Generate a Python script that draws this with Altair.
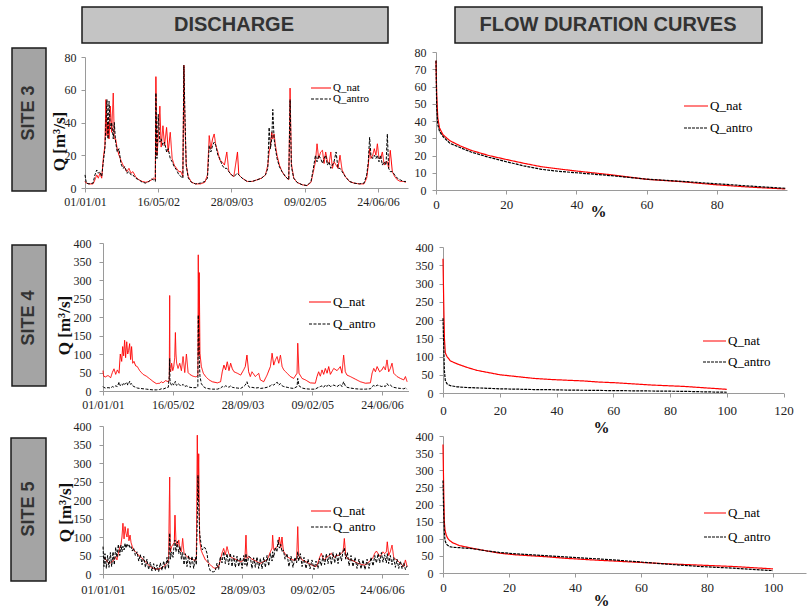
import altair as alt
import pandas as pd

# ---------------- data ----------------
SERIES = ["Q_nat", "Q_antro"]
HEADERS = ["DISCHARGE", "FLOW DURATION CURVES"]
SITES = ["SITE 3", "SITE 4", "SITE 5"]
START = "2001-01-01"
DATE_TICKS = ["2001-01-01", "2002-05-16", "2003-09-28", "2005-02-09", "2006-06-24"]
Y_TITLE = "Q [m³/s]"
PCT_TITLE = "%"

# Site 3 discharge (days since 01/01/01, m3/s)
s3_days = [0, 9, 27, 55, 68, 80, 91, 102, 114, 125,
           136, 143, 150, 157, 164, 173, 182, 193, 200, 209,
           220, 232, 245, 259, 273, 286, 300, 314, 327, 345,
           368, 391, 414, 436, 455, 468, 480, 484, 491, 500,
           511, 520, 532, 543, 557, 568, 582, 595, 609, 625,
           641, 655, 668, 675, 682, 691, 705, 727, 755, 789,
           818, 836, 848, 859, 871, 882, 893, 907, 920, 936,
           952, 968, 982, 1000, 1016, 1041, 1050, 1073, 1107, 1141,
           1175, 1205, 1232, 1248, 1257, 1266, 1275, 1282, 1291, 1300,
           1311, 1327, 1345, 1368, 1391, 1400, 1409, 1425, 1448, 1482,
           1516, 1543, 1559, 1573, 1584, 1595, 1609, 1621, 1632, 1643,
           1655, 1666, 1678, 1689, 1700, 1714, 1727, 1741, 1755, 1777,
           1805, 1836, 1873, 1905, 1923, 1934, 1943, 1952, 1964, 1975,
           1986, 1996, 2007, 2018, 2030, 2043, 2055, 2064, 2073, 2084,
           2098, 2114, 2132, 2152, 2173, 2191]
s3_nat = [4, 3, 2.5, 2.5, 5, 8, 6, 9, 6, 18,
          26, 54, 32, 40, 30, 50, 34, 58, 30, 30,
          24, 20, 17, 14, 12, 10, 12, 9, 10, 7,
          5, 4, 3.5, 4, 5, 6, 5, 68, 20, 30,
          50, 25, 38, 26, 37, 22, 34, 18, 14, 12,
          10, 10, 7, 75, 40, 14, 7, 3.5, 2.5, 2.5,
          3.5, 8, 32, 24, 30, 33, 26, 22, 17, 16,
          14, 22, 10, 8, 7, 22, 8, 6, 4, 4,
          5, 6, 8, 14, 22, 26, 34, 30, 33, 26,
          20, 14, 10, 7, 5, 61, 15, 6, 3.4, 2,
          1.4, 3.5, 10, 16, 27, 18, 22, 23, 15, 22,
          16, 15, 22, 12, 16, 14, 12, 20, 11, 7,
          4, 3, 2.5, 2.5, 6, 14, 24, 18, 20, 24,
          20, 27, 18, 18, 22, 14, 16, 16, 12, 23,
          10, 7, 5, 4, 4, 3.5]
s3_antro = [8, 3, 2.5, 3, 8, 11, 9, 10, 7, 16,
            24, 40, 54, 30, 53, 36, 40, 30, 40, 28,
            22, 24, 15, 12, 13, 9, 10, 8, 8, 6,
            5, 3.5, 3, 4, 5.5, 5, 4, 58, 18, 45,
            28, 30, 26, 28, 22, 24, 18, 16, 13, 11,
            8, 7, 6, 75, 46, 14, 6, 3.5, 2.5, 3,
            4, 6, 26, 22, 26, 28, 26, 20, 18, 14,
            12, 12, 10, 8, 7, 9, 8, 6, 4, 4,
            5, 6, 8, 12, 37, 24, 30, 48, 30, 24,
            18, 13, 10, 7, 5, 54, 13, 6, 3.4, 2,
            1.5, 4, 12, 20, 16, 20, 18, 15, 18, 20,
            14, 16, 12, 14, 16, 22, 12, 12, 10, 7,
            4, 3, 2.5, 3, 8, 16, 31, 20, 18, 20,
            18, 20, 16, 20, 14, 16, 14, 33, 12, 10,
            10, 8, 6, 5, 4, 4]

# Site 4 discharge
s4_days = [0, 5, 17, 36, 55, 67, 79, 91, 103, 115,
           124, 134, 141, 148, 155, 162, 170, 177, 184, 191,
           198, 205, 213, 222, 234, 246, 263, 287, 311, 335,
           358, 382, 406, 418, 430, 449, 468, 475, 478, 480,
           485, 492, 500, 507, 514, 519, 523, 528, 538, 550,
           562, 574, 586, 598, 610, 622, 645, 667, 680, 683,
           688, 690, 695, 705, 719, 736, 760, 784, 820, 843,
           855, 867, 879, 891, 903, 915, 927, 939, 963, 987,
           1008, 1020, 1032, 1044, 1056, 1068, 1092, 1116, 1128, 1152,
           1176, 1200, 1212, 1224, 1236, 1248, 1260, 1272, 1284, 1296,
           1320, 1343, 1367, 1391, 1396, 1405, 1427, 1451, 1486, 1522,
           1534, 1546, 1558, 1570, 1582, 1594, 1606, 1618, 1630, 1654,
           1678, 1701, 1713, 1725, 1737, 1749, 1773, 1809, 1845, 1881,
           1917, 1929, 1941, 1953, 1965, 1983, 1999, 2012, 2024, 2036,
           2048, 2060, 2072, 2084, 2108, 2132, 2156, 2168, 2180]
s4_nat = [55, 40, 38, 42, 36, 50, 60, 45, 57, 48,
          100, 80, 120, 95, 137, 90, 133, 100, 110, 128,
          85, 120, 75, 80, 68, 66, 55, 45, 40, 33,
          26, 20, 21, 25, 22, 28, 25, 30, 258, 60,
          52, 75, 55, 65, 90, 158, 100, 75, 61, 75,
          55, 93, 50, 100, 50, 45, 40, 38, 42, 368,
          95, 320, 102, 66, 48, 39, 30, 25, 22, 25,
          52, 70, 57, 79, 55, 75, 60, 52, 48, 43,
          57, 66, 97, 52, 39, 52, 39, 48, 30, 25,
          43, 66, 102, 70, 84, 93, 75, 97, 66, 57,
          48, 39, 34, 48, 129, 48, 34, 30, 22, 21,
          39, 52, 40, 57, 45, 61, 48, 66, 45, 61,
          55, 66, 48, 97, 52, 43, 39, 32, 25, 21,
          22, 48, 61, 52, 66, 52, 57, 66, 57, 84,
          52, 61, 75, 48, 39, 34, 30, 39, 25]
s4_antro = [12, 10, 8, 9, 8, 12, 10, 14, 12, 24,
            14, 18, 16, 22, 18, 20, 24, 16, 20, 26,
            18, 20, 14, 12, 10, 8, 7, 6, 5, 4,
            3, 3, 4, 6, 5, 8, 10, 40, 88, 30,
            20, 15, 20, 16, 22, 26, 18, 15, 20, 16,
            14, 18, 12, 14, 12, 10, 9, 9, 12, 205,
            130, 90, 40, 20, 12, 8, 6, 5, 5, 8,
            12, 10, 14, 12, 10, 14, 10, 9, 8, 7,
            12, 16, 25, 12, 9, 10, 8, 9, 7, 8,
            10, 14, 18, 16, 20, 24, 16, 20, 14, 12,
            10, 8, 7, 12, 34, 14, 8, 6, 5, 5,
            8, 10, 12, 14, 10, 16, 12, 18, 12, 16,
            12, 18, 12, 25, 14, 10, 8, 6, 5, 5,
            6, 12, 15, 12, 16, 14, 12, 14, 12, 20,
            14, 16, 12, 10, 8, 7, 6, 8, 5]

# Site 5 discharge
s5_days = [0, 7, 14, 24, 33, 43, 53, 62, 72, 81,
           91, 100, 110, 120, 129, 136, 143, 151, 158, 165,
           172, 179, 186, 194, 201, 210, 220, 232, 244, 256,
           268, 280, 292, 304, 315, 327, 339, 351, 363, 375,
           387, 399, 411, 423, 435, 447, 459, 470, 478, 483,
           492, 502, 511, 516, 523, 533, 543, 552, 562, 571,
           581, 590, 602, 614, 626, 638, 650, 662, 669, 676,
           681, 686, 693, 703, 712, 722, 734, 746, 758, 770,
           782, 793, 805, 817, 829, 841, 853, 865, 877, 889,
           901, 913, 925, 937, 949, 961, 973, 985, 997, 1009,
           1018, 1025, 1032,
           1044, 1056, 1068, 1080, 1092, 1104, 1116, 1128, 1140, 1152,
           1164, 1176, 1188, 1200, 1212, 1216, 1224, 1235, 1247, 1255,
           1264, 1274, 1283, 1293, 1305, 1319, 1333, 1348, 1362, 1376,
           1388, 1396, 1403, 1415, 1427, 1441, 1455, 1470, 1484, 1498,
           1513, 1527, 1541, 1553, 1565, 1577, 1589, 1601, 1613, 1625,
           1637, 1649, 1661, 1673, 1685, 1697, 1709, 1721, 1730, 1740,
           1752, 1764, 1778, 1792, 1807, 1821, 1835, 1850, 1864, 1878,
           1893, 1907, 1921, 1936, 1948, 1960, 1972, 1984, 1996, 2007,
           2019, 2031, 2038, 2048, 2060, 2072, 2084, 2096, 2108, 2120,
           2132, 2144, 2156, 2168, 2180]
s5_nat = [47, 45, 40, 38, 32, 29, 30, 33, 35, 40,
          47, 38, 56, 70, 80, 100, 137, 95, 128, 110,
          100, 123, 90, 105, 85, 74, 65, 60, 56, 50,
          47, 42, 38, 33, 29, 25, 20, 17, 15, 14,
          13, 14, 15, 17, 20, 25, 29, 38, 262, 60,
          74, 80, 85, 159, 90, 74, 92, 65, 60, 96,
          56, 52, 47, 44, 42, 40, 38, 37, 40, 375,
          200, 325, 92, 65, 56, 48, 38, 34, 29, 25,
          20, 17, 15, 18, 20, 38, 56, 69, 52, 74,
          56, 47, 44, 42, 40, 38, 36, 33, 35, 38,
          45, 105, 42,
          47, 44, 40, 38, 36, 33, 31, 29, 31, 34,
          36, 38, 48, 60, 70, 105, 65, 69, 74, 80,
          100, 72, 100, 62, 55, 47, 44, 40, 38, 37,
          40, 128, 50, 45, 38, 36, 33, 30, 27, 24,
          22, 20, 30, 45, 56, 42, 38, 45, 47, 52,
          56, 48, 45, 51, 50, 52, 56, 60, 96, 50,
          42, 40, 38, 36, 33, 30, 28, 26, 25, 24,
          28, 33, 38, 45, 56, 62, 55, 48, 52, 60,
          55, 60, 87, 50, 61, 78, 45, 40, 38, 33,
          29, 25, 20, 38, 20]
s5_antro = [74, 20, 55, 15, 50, 18, 58, 20, 60, 25,
            72, 45, 80, 50, 78, 60, 75, 65, 83, 70,
            82, 75, 80, 70, 74, 62, 70, 50, 60, 35,
            52, 25, 48, 18, 40, 12, 32, 8, 28, 8,
            25, 6, 30, 10, 35, 12, 45, 15, 110, 40,
            60, 45, 83, 92, 60, 88, 55, 75, 40, 58,
            25, 55, 20, 50, 18, 48, 15, 45, 25, 150,
            267, 190, 110, 80, 65, 72, 70, 55, 20, 8,
            6, 6, 8, 29, 12, 47, 30, 60, 28, 55,
            25, 56, 20, 50, 18, 48, 20, 45, 15, 50,
            25, 55, 20,
            48, 45, 15, 44, 18, 46, 15, 42, 14, 45,
            18, 50, 22, 55, 35, 60, 45, 72, 60, 92,
            70, 80, 60, 65, 40, 55, 20, 48, 18, 45,
            30, 60, 35, 55, 20, 45, 15, 40, 14, 38,
            12, 35, 15, 42, 22, 50, 25, 55, 28, 55,
            25, 58, 30, 55, 28, 60, 35, 62, 70, 40,
            58, 22, 50, 20, 45, 15, 40, 14, 38, 12,
            40, 15, 45, 22, 50, 30, 55, 30, 58, 32,
            52, 30, 55, 28, 50, 25, 45, 18, 40, 15,
            35, 14, 30, 12, 22]

# Flow duration curves (% of time exceeded, m3/s)
f3_pct = [0, 0.2, 0.5, 1, 2, 4, 7, 10, 15, 20, 25, 30, 35, 40, 50, 60, 70, 80, 90, 99.5]
f3_nat = [75, 55, 42, 36, 32, 28.5, 25.5, 23, 20, 17.7, 15.5, 13.5, 12.2, 11, 8.8, 6.2, 4.8, 3, 1.6, 0.6]
f3_antro = [75, 48, 38, 34, 31, 27, 24.5, 22, 19, 16.4, 14, 12, 10.8, 10, 8.3, 6.3, 5, 3.6, 2.2, 1.0]

f4_pct = [0, 0.25, 0.5, 0.8, 1.4, 2.6, 4.9, 8.5, 12, 16.7, 20, 26, 32, 38, 43.7, 49.5, 55, 61, 67, 73, 79, 85, 90.6, 96.5, 100]
f4_nat = [368, 250, 150, 110, 100, 88, 80, 70, 62, 55, 50, 45, 40, 37, 35, 33, 30, 28, 25, 22, 20, 18, 15, 12, 10]
f4_antro = [205, 130, 60, 35, 25, 20, 17, 15, 14, 12.5, 11.5, 10.5, 9.5, 9, 8, 7.5, 7, 6.5, 6, 5.5, 5, 4.5, 3.5, 2.5, 2]

f5_pct = [0, 0.2, 0.4, 0.6, 1, 1.5, 2, 3, 5, 9, 13, 17, 22, 27, 32, 37, 42, 47.5, 57.6, 67.7, 77.8, 88, 100]
f5_nat = [375, 250, 150, 125, 110, 100, 95, 88, 80, 72, 65, 58, 53, 50, 47, 43, 40, 37, 32, 27, 23, 19, 12]
f5_antro = [270, 180, 120, 95, 85, 80, 77, 75, 74, 71, 65, 60, 56, 53, 50, 47, 44, 41, 34, 26, 19, 14, 7]

# ---------------- layout / style ----------------
W, H = 807, 608
COLORS = ["#ff0000", "#000000"]
TS_DASHES = [[1, 0], [3, 1.5]]
FDC_DASHES = [[1, 0], [3, 1]]
SERIF = "Liberation Serif, Times New Roman, serif"
SANS = "Liberation Sans, Arial, sans-serif"
DAY_MS = 86400000
T0 = int(pd.Timestamp(START, tz="UTC").value // 10**6)


def ms(d):
    return T0 + int(round(d * DAY_MS))


def date_ms(s):
    return int(pd.Timestamp(s, tz="UTC").value // 10**6)


# lc = legend entry centres (Q_nat, Q_antro), lx = legend line start, ll = line length, lfs = legend font
GEOM = {
    "d3": dict(x0=85, x1=408, y0=188, y1=57, xmax=2205, ymax=80, yt=[0, 20, 40, 60, 80],
               xpad=4, xfs=12, ypad=5, tx=59, ty=141, lx=310, lc=(88, 99), ll=20, lfs=11),
    "d4": dict(x0=103, x1=408.5, y0=391, y1=243, xmax=2190, ymax=400, yt=list(range(0, 401, 50)),
               xpad=4, xfs=12, ypad=8, tx=64, ty=325, lx=308, lc=(302, 324), ll=22, lfs=13),
    "d5": dict(x0=103, x1=408.5, y0=574, y1=426, xmax=2190, ymax=400, yt=list(range(0, 401, 50)),
               xpad=5, xfs=12.5, ypad=8, tx=65, ty=512, lx=310, lc=(511, 527), ll=20, lfs=13),
    "f3": dict(x0=436, x1=787, y0=190, y1=52, xmax=100, ymax=80, yt=list(range(0, 81, 10)),
               xt=[0, 20, 40, 60, 80], xpad=4, ypad=6, tx=598, ty=211, lx=683, lc=(106, 128), ll=24, lfs=13),
    "f4": dict(x0=443, x1=783.5, y0=393, y1=247, xmax=120, ymax=400, yt=list(range(0, 401, 50)),
               xt=list(range(0, 121, 20)), xpad=7, ypad=6, tx=601, ty=427, lx=702, lc=(341, 362), ll=23, lfs=13),
    "f5": dict(x0=443, x1=806, y0=573, y1=436, xmax=110, ymax=400, yt=list(range(0, 401, 50)),
               xt=list(range(0, 101, 20)), xpad=4, ypad=6, tx=601, ty=600, lx=703, lc=(513, 537), ll=22, lfs=13),
}

BOXES = {
    "DISCHARGE": (82, 7, 388, 43, 234, 25),
    "FLOW DURATION CURVES": (455, 7, 762, 43, 608, 25),
    "SITE 3": (12, 48, 46, 191, 29, 113),
    "SITE 4": (12, 245, 46, 386, 29, 318),
    "SITE 5": (11, 438, 46, 581, 28.5, 509),
}


def legend(g, i):
    ly = g["lc"][i] - g["ll"] / 2 - 1
    return alt.Legend(orient="none", legendX=g["lx"], legendY=ly, title=None, values=[SERIES[i]],
                      symbolType="stroke", symbolSize=g["ll"] ** 2, symbolStrokeWidth=1.2,
                      labelFont=SERIF, labelFontSize=g["lfs"], labelColor="#000000",
                      labelOffset=1, padding=0)


def enc_series(g, i, dashes):
    return dict(
        color=alt.Color("series:N", scale=alt.Scale(domain=SERIES, range=COLORS), legend=legend(g, i)),
        strokeDash=alt.StrokeDash("series:N", scale=alt.Scale(domain=SERIES, range=dashes), legend=legend(g, i)),
    )


def y_enc(g, show_axis, with_title):
    scale = alt.Scale(domain=[0, g["ymax"]], range=[g["y0"], g["y1"]], nice=False, zero=False)
    if not show_axis:
        return alt.Y("Q:Q", scale=scale, axis=None)
    kw = dict(orient="left", offset=-g["x0"], values=g["yt"], labelPadding=g["ypad"],
              labelFont=SERIF, labelFontSize=12)
    if with_title:
        kw.update(title=Y_TITLE, titleX=g["tx"] - g["x0"], titleY=g["ty"], titleAngle=270,
                  titleAlign="center", titleBaseline="middle", titleFont=SERIF, titleFontSize=17)
    else:
        kw.update(title=None)
    return alt.Y("Q:Q", scale=scale, axis=alt.Axis(**kw))


def ts_layers(days, nat, antro, g):
    out = []
    for i, vals in enumerate((nat, antro)):
        assert len(days) == len(vals)
        df = pd.DataFrame({"x": [ms(d) for d in days], "Q": vals, "series": SERIES[i]})
        xscale = alt.Scale(type="utc", domain=[T0, ms(g["xmax"])], range=[g["x0"], g["x1"]])
        if i == 0:
            xaxis = alt.Axis(orient="bottom", offset=g["y0"] - H, values=[date_ms(s) for s in DATE_TICKS],
                             format="%d/%m/%y", labelPadding=g["xpad"], labelFont=SERIF,
                             labelFontSize=g["xfs"], title=None)
        else:
            xaxis = None
        out.append(alt.Chart(df).mark_line(strokeWidth=1).encode(
            x=alt.X("x:T", scale=xscale, axis=xaxis),
            y=y_enc(g, i == 0, True),
            **enc_series(g, i, TS_DASHES),
        ))
    return out


def fdc_layers(pct, nat, antro, g):
    out = []
    for i, vals in enumerate((nat, antro)):
        assert len(pct) == len(vals)
        df = pd.DataFrame({"x": pct, "Q": vals, "series": SERIES[i]})
        xscale = alt.Scale(domain=[0, g["xmax"]], range=[g["x0"], g["x1"]], nice=False, zero=False)
        if i == 0:
            xaxis = alt.Axis(orient="bottom", offset=g["y0"] - H, values=g["xt"], labelPadding=g["xpad"],
                             labelFont=SERIF, labelFontSize=13,
                             title=PCT_TITLE, titleX=g["tx"], titleY=g["ty"] - g["y0"], titleFont=SERIF,
                             titleAlign="center", titleBaseline="middle", titleFontSize=16)
        else:
            xaxis = None
        out.append(alt.Chart(df).mark_line(strokeWidth=1.2).encode(
            x=alt.X("x:Q", scale=xscale, axis=xaxis),
            y=y_enc(g, i == 0, False),
            **enc_series(g, i, FDC_DASHES),
        ))
    return out


def box_frame(labels):
    return pd.DataFrame([
        {"label": l, "x": BOXES[l][0], "y": BOXES[l][1], "x2": BOXES[l][2], "y2": BOXES[l][3],
         "cx": BOXES[l][4], "cy": BOXES[l][5]} for l in labels
    ])


def boxes(labels, fill, font_size, angle):
    base = alt.Chart(box_frame(labels))
    rect = base.mark_rect(fill=fill, stroke="#1a1a1a", strokeWidth=1.5).encode(
        x=alt.X("x:Q", scale=None, axis=None), x2="x2:Q",
        y=alt.Y("y:Q", scale=None, axis=None), y2="y2:Q")
    text = base.mark_text(font=SANS, fontWeight="bold", fontSize=font_size, color="#333333",
                          align="center", baseline="middle", angle=angle).encode(
        x=alt.X("cx:Q", scale=None, axis=None),
        y=alt.Y("cy:Q", scale=None, axis=None), text="label:N")
    return [rect, text]


layers = []
layers += boxes(HEADERS, "#c4c4c4", 20, 0)
layers += boxes(SITES, "#a4a4a4", 18, 270)
layers += ts_layers(s3_days, s3_nat, s3_antro, GEOM["d3"])
layers += ts_layers(s4_days, s4_nat, s4_antro, GEOM["d4"])
layers += ts_layers(s5_days, s5_nat, s5_antro, GEOM["d5"])
layers += fdc_layers(f3_pct, f3_nat, f3_antro, GEOM["f3"])
layers += fdc_layers(f4_pct, f4_nat, f4_antro, GEOM["f4"])
layers += fdc_layers(f5_pct, f5_nat, f5_antro, GEOM["f5"])

chart = alt.layer(*layers).resolve_scale(
    x="independent", y="independent", color="independent", strokeDash="independent"
).resolve_axis(x="independent", y="independent").resolve_legend(
    color="independent", strokeDash="independent"
).properties(
    width=W, height=H, autosize=alt.AutoSizeParams(type="none"), padding=0, background="white"
).configure_view(stroke=None).configure_axis(
    domainColor="#9a9a9a", tickColor="#9a9a9a", tickSize=4, grid=False,
    labelFont=SERIF, labelFontSize=12.5, labelColor="#222222", labelFlush=False, labelOverlap=False,
    titleFont=SERIF, titleFontWeight="bold", titleFontSize=16, titleColor="#111111",
)

chart.save("out.html", embed_options={"renderer": "svg", "actions": False})
